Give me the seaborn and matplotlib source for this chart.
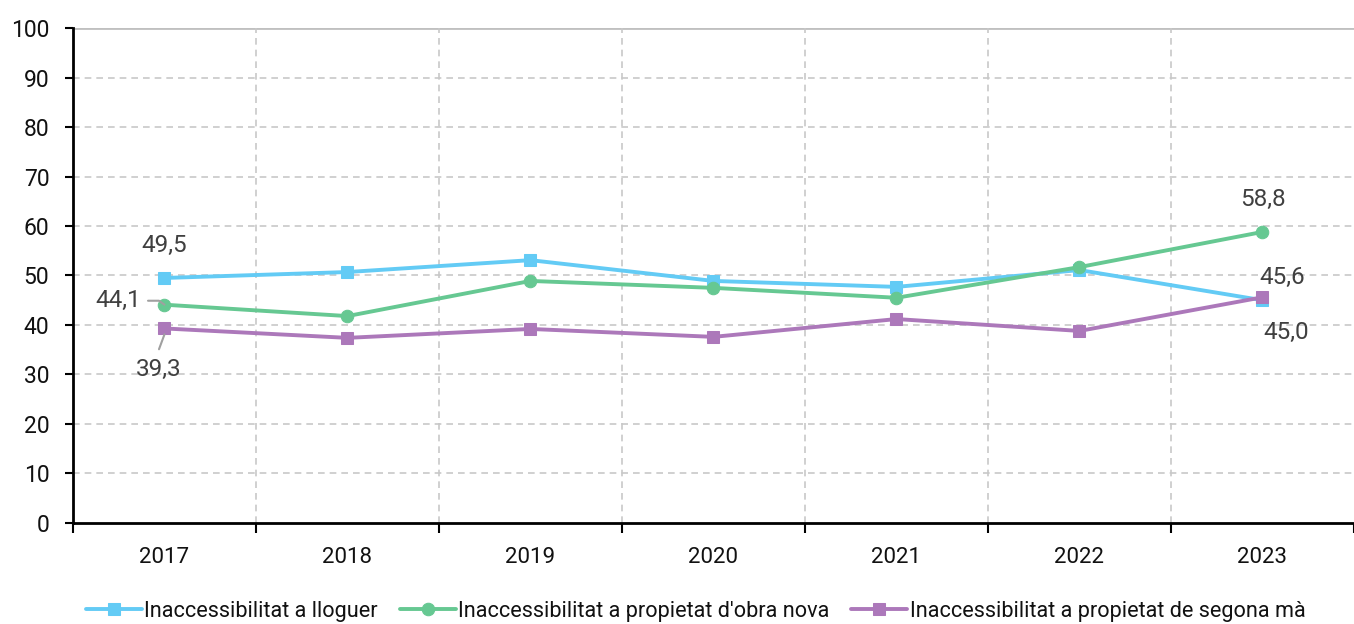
import matplotlib
matplotlib.use("Agg")
import matplotlib.pyplot as plt
import seaborn as sns
import pandas as pd
import numpy as np

years = ["2017", "2018", "2019", "2020", "2021", "2022", "2023"]
lloguer = [49.5, 50.7, 53.1, 48.9, 47.7, 51.1, 45.0]
obra_nova = [44.1, 41.8, 48.9, 47.5, 45.5, 51.7, 58.8]
segona_ma = [39.3, 37.4, 39.2, 37.6, 41.2, 38.8, 45.6]
series_names = ["Inaccessibilitat a lloguer",
                "Inaccessibilitat a propietat d'obra nova",
                "Inaccessibilitat a propietat de segona mà"]
colors = ["#63CBF5", "#66C892", "#AC78BA"]
markers = ["s", "o", "s"]

sns.set_theme(style="white")
plt.rcParams['font.family'] = ['Roboto', 'DejaVu Sans']

fig = plt.figure(figsize=(13.54, 6.24), dpi=100)
ax = fig.add_axes([0.0539, 0.1619, 0.9461, 0.7932])

xs = np.arange(len(years))
for name, vals, c, m in zip(series_names, [lloguer, obra_nova, segona_ma], colors, markers):
    df = pd.DataFrame({"x": xs, "y": vals})
    sns.lineplot(data=df, x="x", y="y", ax=ax, color=c, marker=m, markersize=9,
                 markeredgecolor=c, linewidth=2.8, label=name)

ax.set_xlim(-0.5, 6.45)
ax.set_ylim(0, 100)
ax.set_yticks(range(0, 101, 10))
ax.set_xticks(xs)
ax.set_xticklabels(years)
ax.set_xticks(np.arange(-0.5, 6.6, 1), minor=True)
ax.tick_params(axis="x", which="major", length=0, pad=17, labelsize=16, colors="#111111")
ax.tick_params(axis="x", which="minor", length=7, width=1.5, color="black", direction="out", bottom=True)
ax.tick_params(axis="y", length=6, width=1.5, color="black", direction="out", labelsize=16.5,
               pad=11, colors="#111111", left=True)
ax.set_xlabel("")
ax.set_ylabel("")

# gridlines
for yv in range(10, 100, 10):
    ax.axhline(yv, color="#c8c8c8", lw=1.2, ls=(0, (4, 3)), zorder=0)
ax.axhline(100, color="#c0c0c0", lw=2, zorder=0)
for xv in np.arange(0.5, 6.5, 1):
    ax.axvline(xv, color="#c8c8c8", lw=1.2, ls=(0, (4, 3)), zorder=0)

for s in ["top", "right"]:
    ax.spines[s].set_visible(False)
ax.spines["left"].set_color("black")
ax.spines["left"].set_linewidth(2)
ax.spines["bottom"].set_color("black")
ax.spines["bottom"].set_linewidth(2)

def fmt(v):
    return f"{v:.1f}".replace(".", ",")

lab_kw = dict(fontsize=17.5, color="#404040", ha="center", va="center")
ax.text(0, lloguer[0] + 6.5, fmt(lloguer[0]), **lab_kw)
ax.text(-0.25, obra_nova[0] + 0.8, fmt(obra_nova[0]), **lab_kw)
ax.plot([-0.09, -0.03, 0.0], [obra_nova[0] + 0.8, obra_nova[0] + 0.8, obra_nova[0]], color="#a0a0a0", lw=1.5)
ax.text(-0.03, segona_ma[0] - 8.3, fmt(segona_ma[0]), **lab_kw)
ax.plot([-0.03, 0.0], [segona_ma[0] - 4.2, segona_ma[0] - 1.2], color="#a0a0a0", lw=1.5)
ax.text(6, obra_nova[6] + 6.5, fmt(obra_nova[6]), **lab_kw)
ax.text(6.11, segona_ma[6] + 4.0, fmt(segona_ma[6]), **lab_kw)
ax.text(6.13, lloguer[6] - 6.5, fmt(lloguer[6]), **lab_kw)

ax.legend(loc="center", bbox_to_anchor=(0.486, -0.178), ncol=3, frameon=False,
          fontsize=15.6, handlelength=2.6, handletextpad=0.1, columnspacing=1.0,
          labelcolor="#111111")

fig.savefig("out.png", dpi=100)
